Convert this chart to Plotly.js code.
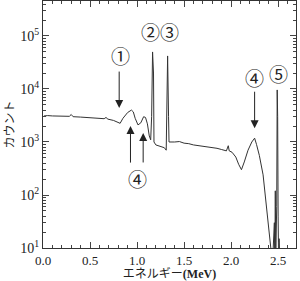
<!DOCTYPE html>
<html><head><meta charset="utf-8">
<script src="https://cdn.plot.ly/plotly-3.0.1.min.js"></script>
<style>html,body{margin:0;padding:0;background:#fff}#c{width:300px;height:281px}</style>
</head><body><div id="c"></div>
<script>
const energy = [0.01,0.05,0.10,0.15,0.20,0.25,0.28,0.30,0.32,0.40,0.50,0.55,0.60,0.65,0.67,0.69,0.75,0.80,0.82,0.85,0.90,0.94,0.96,0.98,1.01,1.04,1.07,1.09,1.11,1.13,1.145,1.155,1.165,1.175,1.18,1.20,1.25,1.29,1.31,1.32,1.325,1.335,1.34,1.40,1.45,1.50,1.55,1.60,1.65,1.70,1.75,1.80,1.85,1.90,1.95,1.97,1.98,2.01,2.05,2.08,2.11,2.14,2.18,2.22,2.25,2.27,2.30,2.34,2.37,2.40,2.42,2.44,2.46,2.465,2.47,2.475,2.485,2.49,2.495,2.50,2.505,2.51,2.52];
const counts = [3100,3150,3100,3080,3050,3000,3050,3300,3000,2950,2900,2850,2800,2750,2900,2700,2550,2300,2250,2800,3600,4000,3700,2800,2100,2300,3000,2900,2200,1300,1100,3000,50000,20000,1000,880,820,780,700,5000,42000,3000,1000,1000,1020,950,930,880,860,820,800,780,760,720,680,850,680,640,520,380,300,420,700,1000,1180,900,560,240,77,19,8,5,30,5,120,8,60,9600,3000,40,5,15,5];
const yTickVals = [10,100,1000,10000,100000];
const yTickText = ['10<sup>1</sup>','10<sup>2</sup>','10<sup>3</sup>','10<sup>4</sup>','10<sup>5</sup>'];
const xTickVals = [0,0.5,1.0,1.5,2.0,2.5];
const xTickText = ['0.0','0.5','1.0','1.5','2.0','2.5'];

const yMinor = [];
for (let p = 1; p <= 5; p++) for (let m = 2; m <= 9; m++) yMinor.push(m * Math.pow(10, p));

const serif = 'Liberation Serif, DejaVu Serif, serif';
const jp = 'Noto Sans CJK JP, sans-serif';
const lab = (t,x,y)=>({text:t,x:x,y:y,xref:'x',yref:'y',showarrow:false,font:{family:jp,size:19,color:'#222'}});
const arr = (x,y,ay)=>({text:'',x:x,y:y,xref:'x',yref:'y',ax:0,ay:ay,showarrow:true,arrowhead:2,arrowsize:1.6,arrowwidth:1,arrowcolor:'#222'});

Plotly.newPlot('c',[{
  x:energy,y:counts,type:'scatter',mode:'lines',
  line:{color:'#333',width:1},hoverinfo:'skip'
}],{
  width:300,height:281,
  margin:{l:43,r:4,t:1,b:33},
  paper_bgcolor:'#fff',plot_bgcolor:'#fff',
  showlegend:false,
  xaxis:{range:[0,2.69],tickvals:xTickVals,ticktext:xTickText,ticks:'inside',ticklen:6,
    showline:true,linecolor:'#333',linewidth:1,mirror:'ticks',showgrid:false,zeroline:false,
    tickfont:{family:serif,size:13,color:'#222'},
    minor:{ticks:'inside',ticklen:3,dtick:0.1,showgrid:false},
    title:{text:'エネルギー<b>(MeV)</b>',font:{family:serif+', '+jp,size:12,color:'#222'},standoff:1}},
  yaxis:{type:'log',range:[1,5.66],tickvals:yTickVals,ticktext:yTickText,ticks:'inside',ticklen:6,
    showline:true,linecolor:'#333',linewidth:1,mirror:'ticks',showgrid:false,zeroline:false,
    tickfont:{family:serif,size:14,color:'#222'},
    minor:{ticks:'inside',ticklen:3,tickvals:yMinor,showgrid:false},
    title:{text:'カウント',font:{family:jp,size:12,color:'#222'},standoff:4}},
  annotations:[
    lab('①',0.82,4.64), arr(0.81,3.64,-38),
    lab('②',1.14,5.08), lab('③',1.35,5.08),
    lab('④',1.00,2.32), arr(0.93,3.30,38), arr(1.065,3.17,31),
    lab('④',2.25,4.21), arr(2.25,3.26,-38),
    lab('⑤',2.50,4.30)
  ]
},{staticPlot:true});
</script></body></html>
